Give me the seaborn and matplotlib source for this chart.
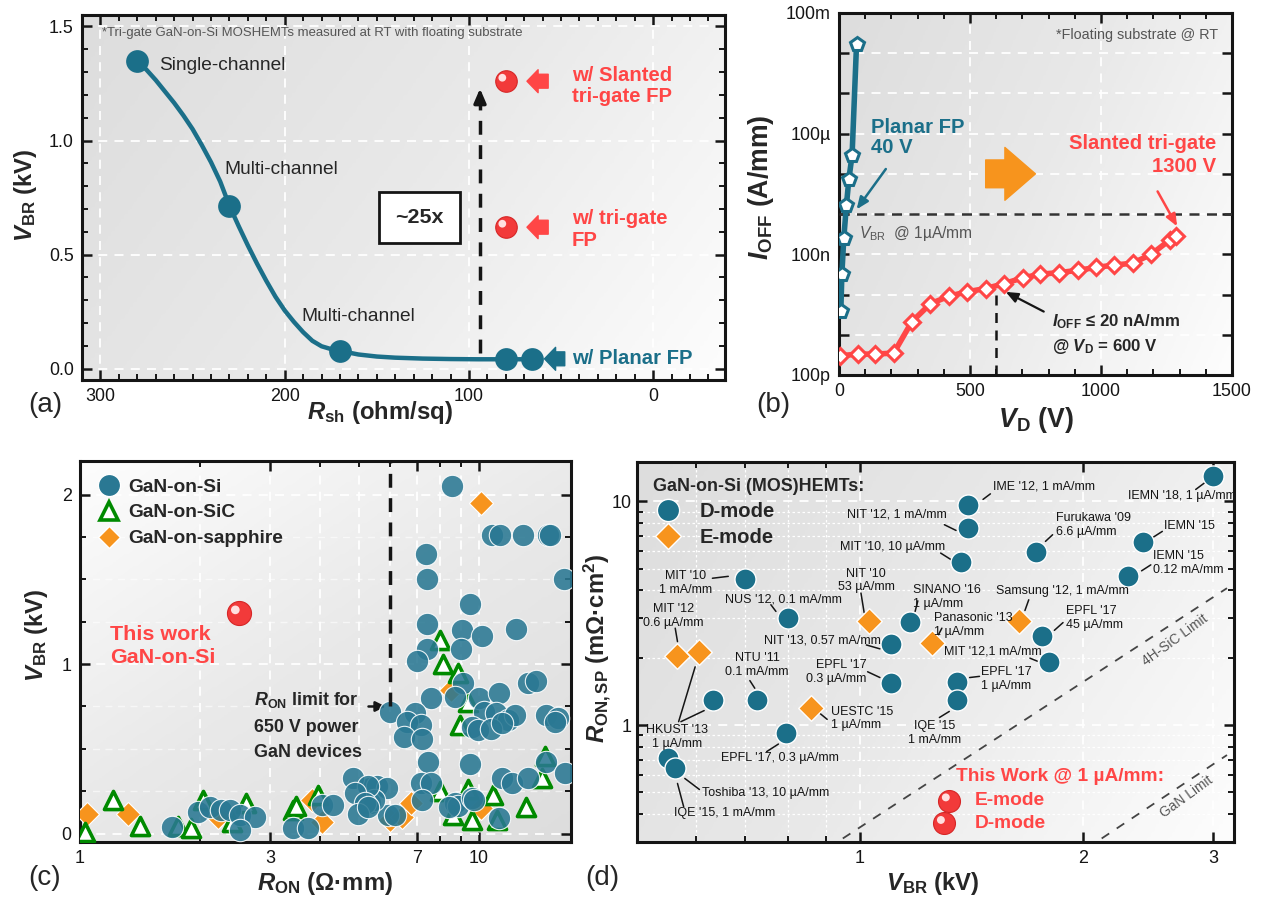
# Four-panel figure: tri-gate GaN-on-Si MOSHEMT breakdown / benchmark

import numpy as np
import seaborn as sns
import matplotlib
matplotlib.use("Agg")
import matplotlib.pyplot as plt
import matplotlib.transforms as mtransforms
from matplotlib import font_manager
from matplotlib.colors import LinearSegmentedColormap
from matplotlib.lines import Line2D
from matplotlib.ticker import MultipleLocator, FixedLocator, FuncFormatter, NullFormatter, NullLocator, LogLocator

# ---------------- data ----------------
# (a) V_BR vs R_sh
rsh_pts = [280, 230, 170, 80, 66]
vbr_pts = [1.35, 0.714, 0.078, 0.041, 0.041]
rsh_fit = [280, 275, 270, 265, 260, 255, 250, 245, 240, 235, 230, 225, 220, 215, 210, 205, 200, 195,
           190, 185, 180, 175, 170, 160, 150, 140, 125, 110, 95, 80, 66]
vbr_fit = [1.35, 1.31, 1.265, 1.215, 1.165, 1.11, 1.05, 0.98, 0.905, 0.82, 0.714, 0.625, 0.54, 0.46,
           0.385, 0.315, 0.255, 0.205, 0.16, 0.122, 0.098, 0.086, 0.078, 0.062, 0.053, 0.048, 0.044,
           0.042, 0.041, 0.041, 0.041]
rsh_fp = [80, 80]
vbr_fp = [1.26, 0.62]

# (b) off-state leakage
vd_planar = [7, 11, 18.5, 28.5, 38, 50, 67]
ioff_planar = [3.8e-9, 3.2e-8, 2.6e-7, 1.7e-6, 7.6e-6, 2.9e-5, 1.66e-2]
vd_slant = [4, 71, 138, 209, 278, 349, 420, 489, 560, 630, 701, 769, 840, 912, 980, 1050, 1121, 1192, 1264, 1285]
ioff_slant = [3.0e-10, 3.3e-10, 3.3e-10, 3.5e-10, 2.1e-9, 5.9e-9, 9.1e-9, 1.17e-8, 1.41e-8, 1.86e-8,
              2.6e-8, 3.2e-8, 3.5e-8, 4.0e-8, 4.7e-8, 5.4e-8, 6.0e-8, 1.0e-7, 2.3e-7, 2.9e-7]

# (c) V_BR vs R_ON benchmark
si_ron = [8.56, 10.8, 11.3, 12.9, 14.9, 15.1, 7.37, 7.4, 16.3, 9.5, 7.4, 9.06, 10.2, 12.4,
          7.4, 7.01, 9.0, 9.1, 7.6, 8.7, 10.0, 11.2, 13.3, 13.9,
          5.98, 6.9, 6.6, 7.15, 6.5, 7.2,
          10.3, 11.0, 11.8, 12.3, 9.6, 9.96, 10.7, 11.4,
          14.7, 15.8, 15.5,
          14.7, 9.5, 7.45, 16.4,
          11.4, 12.1, 13.3, 7.15, 7.6, 7.2,
          8.7, 8.85, 8.4, 9.6, 9.7, 11.2,
          5.93, 6.17,
          5.33, 5.54, 5.88, 5.33, 5.47,
          4.83, 5.27, 4.88, 5.18, 4.97, 5.27,
          4.03, 4.3, 3.42, 3.73,
          1.70, 1.97, 2.12, 2.26, 2.38, 2.52, 2.74, 2.52]
si_vbr = [2.05, 1.76, 1.76, 1.76, 1.76, 1.76, 1.65, 1.50, 1.50, 1.355, 1.237, 1.20, 1.166, 1.21,
          1.09, 1.02, 1.09, 0.89, 0.80, 0.805, 0.80, 0.83, 0.89, 0.90,
          0.716, 0.71, 0.66, 0.64, 0.57, 0.56,
          0.72, 0.71, 0.67, 0.70, 0.63, 0.61, 0.62, 0.65,
          0.70, 0.68, 0.66,
          0.42, 0.41, 0.42, 0.355,
          0.33, 0.30, 0.33, 0.30, 0.30, 0.195,
          0.18, 0.165, 0.155, 0.21, 0.195, 0.09,
          0.107, 0.107,
          0.27, 0.28, 0.27, 0.18, 0.195,
          0.33, 0.28, 0.24, 0.18, 0.118, 0.154,
          0.166, 0.166, 0.035, 0.03,
          0.037, 0.125, 0.154, 0.136, 0.136, 0.107, 0.095, 0.018]
sic_ron = [1.03, 1.21, 1.41, 1.76, 1.90, 2.03, 2.61, 2.4, 3.42, 3.48, 3.95, 7.98, 8.13, 8.85, 9.4,
           8.95, 14.6, 14.4, 8.0, 9.4, 10.85, 8.6, 9.6, 11.1, 13.15]
sic_vbr = [0.006, 0.195, 0.047, 0.047, 0.03, 0.195, 0.178, 0.07, 0.136, 0.16, 0.225, 1.14, 1.0, 0.95, 0.775,
           0.64, 0.46, 0.33, 0.25, 0.26, 0.225, 0.107, 0.077, 0.077, 0.155]
sap_ron = [1.04, 1.32, 2.22, 3.81, 4.03, 5.98, 6.4, 6.75, 8.5, 10.1, 10.1]
sap_vbr = [0.118, 0.118, 0.095, 0.195, 0.065, 0.08, 0.095, 0.18, 0.85, 1.95, 0.15]
this_ron = [2.5]
this_vbr = [1.30]

# (d) R_ON,SP vs V_BR for GaN-on-Si
dmode_vbr = [3.0, 1.40, 1.40, 1.37, 1.73, 2.41, 2.30, 0.70, 0.80, 1.17, 1.10, 1.76, 1.80, 1.10, 1.35,
             1.35, 0.726, 0.634, 0.794, 0.55, 0.563]
dmode_ron = [13.0, 9.66, 7.6, 5.33, 5.93, 6.55, 4.65, 4.5, 3.0, 2.9, 2.3, 2.49, 1.91, 1.54, 1.56,
             1.30, 1.30, 1.30, 0.918, 0.71, 0.64]
emode_vbr = [0.567, 0.607, 1.03, 1.25, 1.64, 0.86]
emode_ron = [2.04, 2.12, 2.92, 2.32, 2.92, 1.19]
sic_lim_vbr = [0.948, 3.13]
sic_lim_ron = [0.311, 4.09]
gan_lim_vbr = [2.12, 3.13]
gan_lim_ron = [0.311, 0.734]

# ---------------- style ----------------
sns.set_theme(style="ticks")
names = {f.name for f in font_manager.fontManager.ttflist}
FAM = "Liberation Sans Narrow" if "Liberation Sans Narrow" in names else "Liberation Sans"
S = 1.0 if FAM.endswith("Narrow") else 0.86
plt.rcParams["font.family"] = [FAM, "DejaVu Sans"]
plt.rcParams["mathtext.fontset"] = "custom"
plt.rcParams["mathtext.rm"] = FAM
plt.rcParams["mathtext.it"] = FAM + ":italic"
plt.rcParams["mathtext.bf"] = FAM + ":bold"
plt.rcParams["mathtext.bfit"] = FAM + ":italic:bold"

TEAL = "#1b6f89"
TEAL_C = "#2a7893"
RED = "#ff4646"
ORANGE = "#f7941d"
GREEN = "#008a00"
INK = "#151515"
FS_TICK = 15 * S
FS_LAB = 20 * S

fig = plt.figure(figsize=(12.66, 9.07), dpi=100)


def panel(rect, light="br"):
    bg = fig.add_axes(rect, zorder=0)
    yy, xx = np.mgrid[0:1:150j, 0:1:150j]
    if light == "br":
        t = 0.7 * xx + 0.3 * yy
    else:
        t = 1 - (0.45 * xx + 0.55 * yy)
    cmap = LinearSegmentedColormap.from_list("bg", ["#dddddd", "#e9e9e9", "#fdfdfd"])
    bg.imshow(t, cmap=cmap, aspect="auto", extent=(0, 1, 0, 1), vmin=0, vmax=1)
    bg.set_axis_off()
    ax = fig.add_axes(rect, zorder=1)
    ax.set_facecolor("none")
    return ax


def style(ax):
    for sp in ax.spines.values():
        sp.set_linewidth(2.2)
        sp.set_color(INK)
    ax.tick_params(which="both", direction="in", top=True, right=True, colors=INK)
    ax.tick_params(which="major", length=7, width=1.8, labelsize=FS_TICK, pad=6)
    ax.tick_params(which="minor", length=4, width=1.4)
    ax.set_axisbelow(True)
    ax.grid(which="major", color="white", ls=(0, (5, 4)), lw=1.3)


def sphere(ax, x, y, s=260):
    ax.scatter(x, y, s=s, color="#f23a3a", edgecolor="#d62626", linewidth=0.8, zorder=6)
    hl = mtransforms.offset_copy(ax.transData, fig=fig, x=-2.5, y=2.5, units="points")
    ax.scatter(x, y, s=s * 0.13, color="#ffe0e0", edgecolor="none", transform=hl, zorder=7)


def block_arrow(ax, tip, tail, color, scale=10, hw=1.65, tw=1.0, hl=0.8):
    ax.annotate("", xy=tip, xytext=tail,
                arrowprops=dict(arrowstyle=f"simple,head_length={hl},head_width={hw},tail_width={tw}",
                                mutation_scale=scale, color=color, shrinkA=0, shrinkB=0), zorder=5)


# ================= (a) =================
ax = panel([0.0648, 0.5810, 0.5079, 0.4024], "br")
style(ax)
sns.lineplot(x=rsh_fit, y=vbr_fit, sort=False, estimator=None, color=TEAL, lw=3.2, ax=ax, zorder=3)
sns.scatterplot(x=rsh_pts, y=vbr_pts, s=230, color=TEAL, edgecolor=TEAL, ax=ax, zorder=4)
for x, y in zip(rsh_fp, vbr_fp):
    sphere(ax, [x], [y], 240)
ax.set_xlim(310, -39)
ax.set_ylim(-0.05, 1.55)
ax.xaxis.set_major_locator(FixedLocator([300, 200, 100, 0]))
ax.xaxis.set_minor_locator(MultipleLocator(10))
ax.yaxis.set_major_locator(FixedLocator([0, 0.5, 1.0, 1.5]))
ax.yaxis.set_major_formatter(FuncFormatter(lambda v, p: f"{v:.1f}"))
ax.yaxis.set_minor_locator(MultipleLocator(0.1))

ax.text(299, 1.47, "*Tri-gate GaN-on-Si MOSHEMTs measured at RT with floating substrate",
        fontsize=11 * S, color="#555555", va="center")
ax.text(268, 1.33, "Single-channel", fontsize=16 * S, va="center")
ax.text(233, 0.875, "Multi-channel", fontsize=16 * S, va="center")
ax.text(191, 0.23, "Multi-channel", fontsize=16 * S, va="center")
ax.text(127, 0.663, "~25x", fontsize=18 * S, fontweight="bold", ha="center", va="center",
        bbox=dict(boxstyle="square,pad=0.75", fc="white", ec=INK, lw=2))
ax.plot([94, 94], [0.07, 1.17], color=INK, lw=2.5, ls=(0, (4, 3)), zorder=3)
ax.annotate("", xy=(94, 1.24), xytext=(94, 1.15),
            arrowprops=dict(arrowstyle="-|>,head_length=0.7,head_width=0.3", color=INK, lw=2.5), zorder=3)
block_arrow(ax, (68.5, 1.26), (57, 1.26), RED)
block_arrow(ax, (68.5, 0.62), (57, 0.62), RED)
block_arrow(ax, (59, 0.043), (48, 0.043), TEAL)
ax.text(44, 1.24, "w/ Slanted\ntri-gate FP", color=RED, fontsize=17 * S, fontweight="bold",
        va="center", linespacing=1.15)
ax.text(44, 0.61, "w/ tri-gate\nFP", color=RED, fontsize=17 * S, fontweight="bold",
        va="center", linespacing=1.15)
ax.text(44, 0.045, "w/ Planar FP", color=TEAL, fontsize=17 * S, fontweight="bold", va="center")

# ================= (b) =================
ax = panel([0.6627, 0.5866, 0.3104, 0.3991], "br")
ax.set_yscale("log")
style(ax)
sns.lineplot(x=vd_slant, y=ioff_slant, sort=False, estimator=None, color=RED, lw=4, marker="D",
             markersize=8, markerfacecolor="white", markeredgecolor=RED, markeredgewidth=2.2, ax=ax, zorder=4)
sns.lineplot(x=vd_planar, y=ioff_planar, sort=False, estimator=None, color=TEAL, lw=4, marker="p",
             markersize=10, markerfacecolor="white", markeredgecolor=TEAL, markeredgewidth=2.2, ax=ax, zorder=4)
ax.set_xlim(0, 1500)
ax.set_ylim(1e-10, 1e-1)
ax.xaxis.set_major_locator(FixedLocator([0, 500, 1000, 1500]))
ax.xaxis.set_minor_locator(MultipleLocator(100))
ytick_txt = {-10: "100p", -7: "100n", -4: "100\u00b5", -1: "100m"}
ax.yaxis.set_major_locator(FixedLocator([10.0 ** k for k in range(-10, 0)]))
ax.yaxis.set_major_formatter(FuncFormatter(lambda v, p: ytick_txt.get(int(round(np.log10(v))), "")))
ax.yaxis.set_minor_locator(NullLocator())

ax.axhline(1e-6, color="#333333", lw=1.8, ls=(0, (4, 3)), zorder=3)
ax.plot([600, 600], [1e-10, 1.6e-8], color=INK, lw=1.8, ls=(0, (4, 3)), zorder=3)
ax.text(0.964, 0.94, "*Floating substrate @ RT", transform=ax.transAxes, ha="right", va="center",
        fontsize=12 * S, color="#555555")
ax.text(121, 7.9e-5, "Planar FP\n40 V", color=TEAL, fontsize=17 * S, fontweight="bold", va="center",
        linespacing=1.1)
ax.text(1440, 3.0e-5, "Slanted tri-gate\n1300 V", color=RED, fontsize=17 * S, fontweight="bold",
        va="center", ha="right", multialignment="right", linespacing=1.25)
ax.annotate("", xy=(61, 1.15e-6), xytext=(185, 1.5e-5),
            arrowprops=dict(arrowstyle="-|>,head_length=0.6,head_width=0.25", color=TEAL, lw=1.8))
ax.annotate("", xy=(1296, 4.3e-7), xytext=(1211, 4.2e-6),
            arrowprops=dict(arrowstyle="-|>,head_length=0.6,head_width=0.25", color=RED, lw=1.8))
ax.annotate("", xy=(627, 1.25e-8), xytext=(791, 3.5e-9),
            arrowprops=dict(arrowstyle="-|>,head_length=0.6,head_width=0.25", color=INK, lw=1.6))
ax.text(75, 3.2e-7, "$V_{\\mathrm{BR}}$  @ 1\u00b5A/mm", color="#555555", fontsize=13 * S, va="center")
ax.text(812, 2.1e-9, "$\\mathbfit{I}_{\\mathbf{OFF}}$ \u2264 20 nA/mm", fontsize=14 * S,
        fontweight="bold", va="center")
ax.text(812, 5.2e-10, "@ $\\mathbfit{V}_{\\mathbf{D}}$ = 600 V", fontsize=14 * S, fontweight="bold",
        va="center")
ax.annotate("", xy=(750, 1e-5), xytext=(560, 1e-5),
            arrowprops=dict(arrowstyle="simple,head_length=2.2,head_width=3.8,tail_width=2.0",
                            mutation_scale=10, color=ORANGE, shrinkA=0, shrinkB=0), zorder=3)

# ================= (c) =================
ax = panel([0.0632, 0.0717, 0.3878, 0.4201], "tl")
ax.set_xscale("log")
style(ax)
sns.scatterplot(x=sap_ron, y=sap_vbr, marker="D", s=150, color=ORANGE, edgecolor="white", linewidth=0.8,
                ax=ax, zorder=3)
sns.scatterplot(x=sic_ron, y=sic_vbr, marker="^", s=170, color="white", edgecolor=GREEN, linewidth=2.6,
                ax=ax, zorder=3)
sns.scatterplot(x=si_ron, y=si_vbr, marker="o", s=260, color=TEAL_C, edgecolor="white", linewidth=0.8,
                alpha=0.88, ax=ax, zorder=4)
sphere(ax, this_ron, this_vbr, 300)
ax.set_xlim(1, 17)
ax.set_ylim(-0.05, 2.2)
ax.xaxis.set_major_locator(FixedLocator([1, 3, 7, 10]))
ax.xaxis.set_major_formatter(FuncFormatter(lambda v, p: f"{v:g}"))
ax.xaxis.set_minor_locator(LogLocator(base=10, subs=np.arange(2, 10)))
ax.xaxis.set_minor_formatter(NullFormatter())
ax.xaxis.grid(which="minor", color="white", ls=(0, (5, 4)), lw=1.3)
ax.yaxis.set_major_locator(FixedLocator([0, 1, 2]))
ax.yaxis.set_minor_locator(MultipleLocator(0.25))
ax.yaxis.grid(which="minor", color="white", ls=(0, (5, 4)), lw=1.0, alpha=0.6)

ax.plot([6, 6], [0.75, 2.2], color=INK, lw=2.5, ls=(0, (4, 3)), zorder=5)
ax.annotate("", xy=(5.93, 0.75), xytext=(5.2, 0.75),
            arrowprops=dict(arrowstyle="-|>,head_length=0.5,head_width=0.25", color=INK, lw=1.8))
ax.text(2.73, 0.79, "$\\mathbfit{R}_{\\mathbf{ON}}$ limit for", fontsize=15 * S, fontweight="bold", va="center")
ax.text(2.73, 0.625, "650 V power", fontsize=15 * S, fontweight="bold", va="center")
ax.text(2.73, 0.48, "GaN devices", fontsize=15 * S, fontweight="bold", va="center")
ax.text(1.19, 1.105, "This work\nGaN-on-Si", color=RED, fontsize=18 * S, fontweight="bold", va="center",
        linespacing=1.25)
handles_c = [
    Line2D([], [], marker="o", ls="", color=TEAL_C, mec="white", ms=16),
    Line2D([], [], marker="^", ls="", mfc="white", mec=GREEN, mew=2.6, ms=13),
    Line2D([], [], marker="D", ls="", color=ORANGE, mec="white", ms=11),
]
ax.legend(handles_c, ["GaN-on-Si", "GaN-on-SiC", "GaN-on-sapphire"], loc="upper left", frameon=False,
          prop=dict(size=16 * S, weight="bold"), handletextpad=0.4, labelspacing=0.45,
          borderaxespad=0.5, handlelength=1.2)

# ================= (d) =================
ax = panel([0.5032, 0.0717, 0.4716, 0.4190], "br")
ax.set_xscale("log")
ax.set_yscale("log")
style(ax)
sns.lineplot(x=sic_lim_vbr, y=sic_lim_ron, color="#444444", lw=1.3, ls=(0, (5, 5)), ax=ax, zorder=2)
sns.lineplot(x=gan_lim_vbr, y=gan_lim_ron, color="#444444", lw=1.3, ls=(0, (5, 5)), ax=ax, zorder=2)
sns.scatterplot(x=dmode_vbr, y=dmode_ron, marker="o", s=230, color=TEAL, edgecolor="white", linewidth=1,
                ax=ax, zorder=4)
sns.scatterplot(x=emode_vbr, y=emode_ron, marker="D", s=170, color=ORANGE, edgecolor="white", linewidth=1,
                ax=ax, zorder=4)
ax.set_xlim(0.5, 3.2)
ax.set_ylim(0.3, 15)
ax.xaxis.set_major_locator(FixedLocator([1, 2, 3]))
ax.xaxis.set_major_formatter(FuncFormatter(lambda v, p: f"{v:g}"))
ax.xaxis.set_minor_locator(LogLocator(base=10, subs=np.arange(2, 10)))
ax.xaxis.set_minor_formatter(NullFormatter())
ax.yaxis.set_major_locator(FixedLocator([1, 10]))
ax.yaxis.set_major_formatter(FuncFormatter(lambda v, p: f"{v:g}"))
ax.yaxis.set_minor_locator(LogLocator(base=10, subs=np.arange(2, 10)))
ax.yaxis.set_minor_formatter(NullFormatter())
ax.tick_params(axis="y", which="major", pad=4)
ax.grid(which="minor", color="white", ls=(0, (2, 2)), lw=0.9)

d_notes = [
    ("IEMN '18, 1 \u00b5A/mm", (2.30, 10.6), "left", (2.84, 11.3), (2.92, 12.1)),
    ("IME '12, 1 mA/mm", (1.51, 11.7), "left", (1.466, 10.2), (1.50, 10.8)),
    ("NIT '12, 1 mA/mm", (1.31, 8.7), "right", (1.30, 7.86), (1.348, 7.41)),
    ("MIT '10, 10 \u00b5A/mm", (1.305, 6.25), "right", (1.285, 5.87), (1.328, 5.48)),
    ("Furukawa '09\n6.6 \u00b5A/mm", (1.84, 7.83), "left", (1.78, 6.62), (1.82, 7.09)),
    ("IEMN '15", (2.57, 7.78), "left", (2.49, 6.92), (2.56, 7.34)),
    ("IEMN '15\n0.12 mA/mm", (2.49, 5.29), "left", (2.40, 4.89), (2.47, 5.2)),
    ("MIT '10\n1 mA/mm", (0.582, 4.31), "center", (0.632, 4.53), (0.664, 4.62)),
    ("NUS '12, 0.1 mA/mm", (0.657, 3.65), "left", (0.758, 3.45), (0.77, 3.22)),
    ("NIT '10\n53 \u00b5A/mm", (1.02, 4.43), "center", (1.003, 3.89), (1.013, 3.18)),
    ("SINANO '16\n1 \u00b5A/mm", (1.18, 3.74), "left", (1.197, 3.59), (1.187, 3.22)),
    ("Samsung '12, 1 mA/mm", (1.526, 3.98), "left", (1.69, 3.63), (1.67, 3.25)),
    ("MIT '12\n0.6 \u00b5A/mm", (0.56, 3.08), "center", (0.563, 2.71), (0.567, 2.36)),
    ("Panasonic '13\n1 \u00b5A/mm", (1.26, 2.79), "left", (1.29, 2.71), (1.276, 2.53)),
    ("EPFL '17\n45 \u00b5A/mm", (1.90, 3.01), "left", (1.83, 2.65), (1.88, 2.87)),
    ("NIT '13, 0.57 mA/mm", (0.743, 2.38), "left", (1.02, 2.28), (1.064, 2.19)),
    ("MIT '12,1 mA/mm", (1.30, 2.13), "left", (1.696, 1.99), (1.735, 1.93)),
    ("NTU '11\n0.1 mA/mm", (0.726, 1.85), "center", (0.71, 1.58), (0.721, 1.46)),
    ("EPFL '17\n0.3 \u00b5A/mm", (1.02, 1.73), "right", (1.024, 1.73), (1.064, 1.63)),
    ("EPFL '17\n1 \u00b5A/mm", (1.457, 1.60), "left", (1.406, 1.63), (1.45, 1.65)),
    ("UESTC '15\n1 \u00b5A/mm", (0.915, 1.07), "left", (0.882, 1.13), (0.903, 1.06)),
    ("IQE '15\n1 mA/mm", (1.26, 0.924), "center", (1.28, 1.08), (1.32, 1.15)),
    ("HKUST '13\n1 \u00b5A/mm", (0.567, 0.887), "center", (0.569, 1.035), (0.599, 1.82)),
    ("EPFL '17, 0.3 \u00b5A/mm", (0.649, 0.714), "left", (0.748, 0.76), (0.776, 0.822)),
    ("Toshiba '13, 10 \u00b5A/mm", (0.612, 0.498), "left", (0.58, 0.577), (0.607, 0.515)),
    ("IQE '15, 1 mA/mm", (0.561, 0.405), "left", (0.567, 0.548), (0.578, 0.431)),
]
for txt, (tx, ty), ha, p0, p1 in d_notes:
    ax.text(tx, ty, txt, ha=ha, va="center", multialignment=ha, fontsize=10.5 * S, color=INK,
            linespacing=1.2, zorder=5)
    ax.plot([p0[0], p1[0]], [p0[1], p1[1]], color=INK, lw=1.1, zorder=3)
ax.plot([0.573, 0.616], [1.035, 1.16], color=INK, lw=1.1, zorder=3)

ax.text(2.66, 2.4, "4H-SiC Limit", rotation=36, fontsize=11.5 * S, color="#555555", ha="center", va="center")
ax.text(2.76, 0.48, "GaN Limit", rotation=36, fontsize=11.5 * S, color="#555555", ha="center", va="center")
ax.text(1.346, 0.59, "This Work @ 1 \u00b5A/mm:", color=RED, fontsize=16 * S, fontweight="bold", va="center")
sphere(ax, [1.32], [0.458], 250)
sphere(ax, [1.30], [0.363], 250)
ax.text(1.43, 0.458, "E-mode", color=RED, fontsize=16 * S, fontweight="bold", va="center")
ax.text(1.43, 0.363, "D-mode", color=RED, fontsize=16 * S, fontweight="bold", va="center")

handles_d = [
    Line2D([], [], marker="o", ls="", color=TEAL, mec="white", ms=16),
    Line2D([], [], marker="D", ls="", color=ORANGE, mec="white", ms=13),
]
leg = ax.legend(handles_d, ["D-mode", "E-mode"], loc="upper left", frameon=False,
                prop=dict(size=17 * S, weight="bold"), title="GaN-on-Si (MOS)HEMTs:",
                title_fontproperties=dict(size=15 * S, weight="bold"), handletextpad=0.9,
                labelspacing=0.35, borderaxespad=0.4, handlelength=1.4)
leg._legend_box.align = "left"

# ---------------- axis titles and panel letters ----------------
fig.text(0.0205, 0.785, "$\\mathbfit{V}_{\\mathbf{BR}}$ (kV)", rotation=90, ha="center", va="center",
         fontsize=FS_LAB, fontweight="bold")
fig.text(0.300, 0.545, "$\\mathbfit{R}_{\\mathbf{sh}}$ (ohm/sq)", ha="center", va="center",
         fontsize=FS_LAB, fontweight="bold")
fig.text(0.601, 0.794, "$\\mathbfit{I}_{\\mathbf{OFF}}$ (A/mm)", rotation=90, ha="center", va="center",
         fontsize=FS_LAB + 2, fontweight="bold")
fig.text(0.818, 0.537, "$\\mathbfit{V}_{\\mathbf{D}}$ (V)", ha="center", va="center",
         fontsize=FS_LAB + 2, fontweight="bold")
fig.text(0.029, 0.300, "$\\mathbfit{V}_{\\mathbf{BR}}$ (kV)", rotation=90, ha="center", va="center",
         fontsize=FS_LAB, fontweight="bold")
fig.text(0.257, 0.026, "$\\mathbfit{R}_{\\mathbf{ON}}$ (\u03a9\u00b7mm)", ha="center", va="center",
         fontsize=FS_LAB, fontweight="bold")
fig.text(0.472, 0.285, "$\\mathbfit{R}_{\\mathbf{ON,SP}}$ (m\u03a9\u00b7cm$^{\\mathbf{2}}$)", rotation=90,
         ha="center", va="center", fontsize=FS_LAB, fontweight="bold")
fig.text(0.737, 0.026, "$\\mathbfit{V}_{\\mathbf{BR}}$ (kV)", ha="center", va="center",
         fontsize=FS_LAB, fontweight="bold")
for lab, x, y in [("(a)", 0.0355, 0.553), ("(b)", 0.611, 0.553), ("(c)", 0.0355, 0.032), ("(d)", 0.476, 0.032)]:
    fig.text(x, y, lab, ha="center", va="center", fontsize=20)

fig.savefig("out.png", dpi=100)
